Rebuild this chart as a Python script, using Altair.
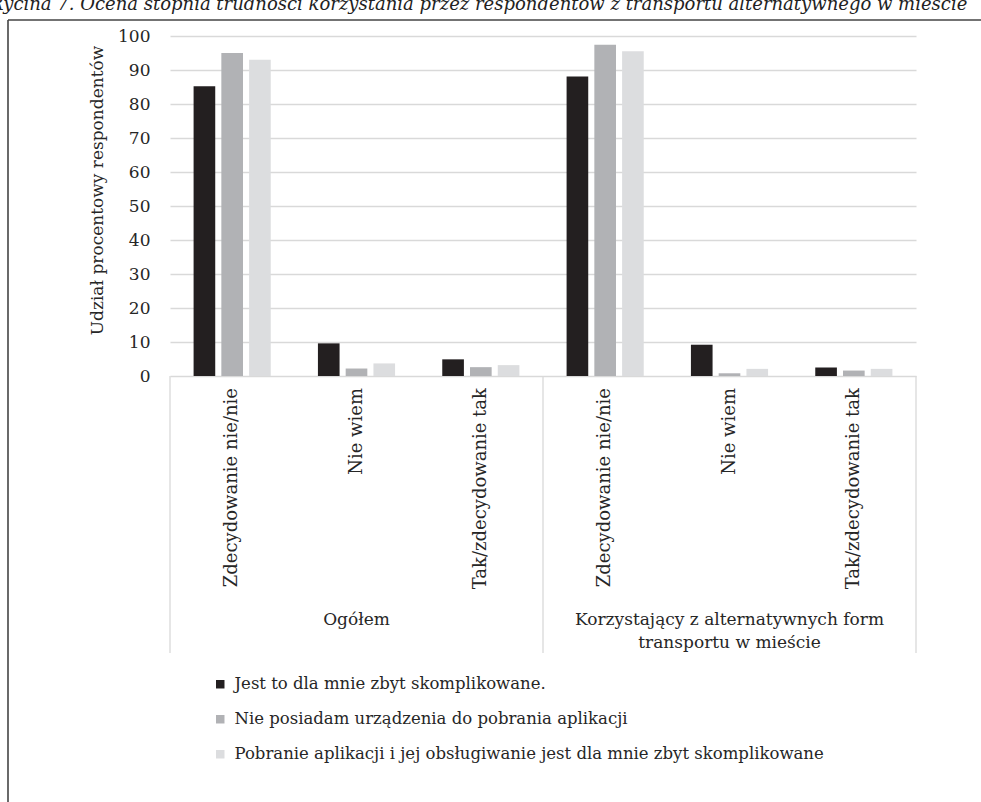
import altair as alt
import pandas as pd

# Respondent groups (outer x level) and answers (inner x level)
groups = ["Ogółem", "Korzystający z alternatywnych form transportu w mieście"]
group_labels = ["Ogółem", "Korzystający z alternatywnych form\ntransportu w mieście"]
answers = ["Zdecydowanie nie/nie", "Nie wiem", "Tak/zdecydowanie tak"]

# Reasons (series)
series = [
    "Jest to dla mnie zbyt skomplikowane.",
    "Nie posiadam urządzenia do pobrania aplikacji",
    "Pobranie aplikacji i jej obsługiwanie jest dla mnie zbyt skomplikowane",
]
colors = ["#231f20", "#b1b2b5", "#dcdddf"]

# Percent of respondents, per answer, in order of `answers`
ogolem_zbyt_skomplikowane = [85.2, 9.6, 4.9]
ogolem_brak_urzadzenia = [95.0, 2.2, 2.6]
ogolem_pobranie_aplikacji = [93.0, 3.7, 3.2]

korzystajacy_zbyt_skomplikowane = [88.1, 9.2, 2.5]
korzystajacy_brak_urzadzenia = [97.4, 0.8, 1.6]
korzystajacy_pobranie_aplikacji = [95.5, 2.1, 2.1]

y_ticks = list(range(0, 101, 10))

caption = ("Rycina 7. Ocena stopnia trudności korzystania przez respondentów "
           "z transportu alternatywnego w mieście")

FONT = "DejaVu Serif"
TEXT = "#262626"
GRID = "#d9d9d9"

values_by_group = [
    [ogolem_zbyt_skomplikowane, ogolem_brak_urzadzenia, ogolem_pobranie_aplikacji],
    [korzystajacy_zbyt_skomplikowane, korzystajacy_brak_urzadzenia, korzystajacy_pobranie_aplikacji],
]

# Composite key "groupIndex|answer" keeps the six inner categories distinct
pos_order = [f"{gi}|{a}" for gi in range(len(groups)) for a in answers]

rows = []
for gi, per_series in enumerate(values_by_group):
    for si, vals in enumerate(per_series):
        for ai, v in enumerate(vals):
            rows.append({"pos": f"{gi}|{answers[ai]}", "seria": series[si], "wartosc": v})
df = pd.DataFrame(rows)

x_scale = alt.Scale(paddingInner=0, paddingOuter=0)


def x_enc(**kw):
    return alt.X("pos:N", sort=pos_order, scale=x_scale, axis=None, **kw)


bars = alt.Chart(df).mark_bar().encode(
    x=x_enc(),
    xOffset=alt.XOffset("seria:N", sort=series,
                        scale=alt.Scale(paddingInner=0.22, paddingOuter=0.85)),
    y=alt.Y(
        "wartosc:Q", scale=alt.Scale(domain=[0, 100], nice=False),
        axis=alt.Axis(
            values=y_ticks, title="Udział procentowy respondentów",
            titleFont=FONT, titleFontSize=17, titleFontWeight="normal", titleColor=TEXT,
            titleAngle=-90, titleX=-73, titleY=154, titleAlign="center", titleBaseline="middle",
            labelFont=FONT, labelFontSize=17, labelColor=TEXT, labelPadding=20,
            ticks=False, domain=False, grid=True, gridColor=GRID, gridWidth=1.3,
        ),
    ),
    color=alt.Color(
        "seria:N", sort=series, scale=alt.Scale(domain=series, range=colors), title=None,
        legend=alt.Legend(
            orient="none", legendX=42, legendY=640, direction="vertical",
            symbolType="square", symbolSize=72, symbolStrokeWidth=0,
            labelFont=FONT, labelFontSize=16.5, labelColor=TEXT, labelLimit=0,
            labelOffset=6, rowPadding=18,
        ),
    ),
)

# Inner-level category labels, rotated, hanging under the axis
cat_df = pd.DataFrame({"pos": pos_order, "odp": [p.split("|")[1] for p in pos_order]})
cat_text = alt.Chart(cat_df).mark_text(
    font=FONT, fontSize=18, color=TEXT, angle=270, align="right", baseline="middle",
).encode(x=x_enc(), y=alt.value(352), text="odp:N")

# Vertical separators between the respondent groups, reaching under the labels
sep_start = alt.Chart(pd.DataFrame({"pos": [f"{gi}|{answers[0]}" for gi in range(len(groups))]})).mark_rule(
    color=GRID, strokeWidth=1.3
).encode(x=x_enc(bandPosition=0), y=alt.value(340), y2=alt.value(617))
sep_end = alt.Chart(pd.DataFrame({"pos": [f"{len(groups) - 1}|{answers[-1]}"]})).mark_rule(
    color=GRID, strokeWidth=1.3
).encode(x=x_enc(bandPosition=1), y=alt.value(340), y2=alt.value(617))

# Outer-level group labels centred under each block of three categories
group_df = pd.DataFrame({
    "pos": [f"{gi}|{answers[1]}" for gi in range(len(groups))],
    "label": group_labels,
})
group_text = alt.Chart(group_df).mark_text(
    font=FONT, fontSize=17, color=TEXT, baseline="middle", align="center",
    lineBreak="\n", lineHeight=23,
).encode(x=x_enc(), y=alt.value(584), text="label:N")

# Figure caption and the figure frame
cap = alt.Chart(pd.DataFrame({"t": [caption]})).mark_text(
    font=FONT, fontSize=18, fontStyle="italic", color="#222", align="left", baseline="alphabetic",
).encode(x=alt.value(-180), y=alt.value(-26), text="t:N")

frame_df = pd.DataFrame({"k": [0]})
frame_top = alt.Chart(frame_df).mark_rule(color="#444", strokeWidth=1.6).encode(
    x=alt.value(-162), x2=alt.value(830), y=alt.value(-16))
frame_left = alt.Chart(frame_df).mark_rule(color="#444", strokeWidth=1.6).encode(
    x=alt.value(-162), y=alt.value(-16), y2=alt.value(790))

chart = alt.layer(
    frame_top, frame_left, cap, sep_start, sep_end, bars, cat_text, group_text
).properties(
    width=746, height=340,
    padding={"left": 170, "top": 36, "right": 65, "bottom": 426},
    autosize=alt.AutoSizeParams(type="none"),
    background="white",
).configure_view(strokeWidth=0)

chart.save("out.html", embed_options={"renderer": "svg", "actions": False})
